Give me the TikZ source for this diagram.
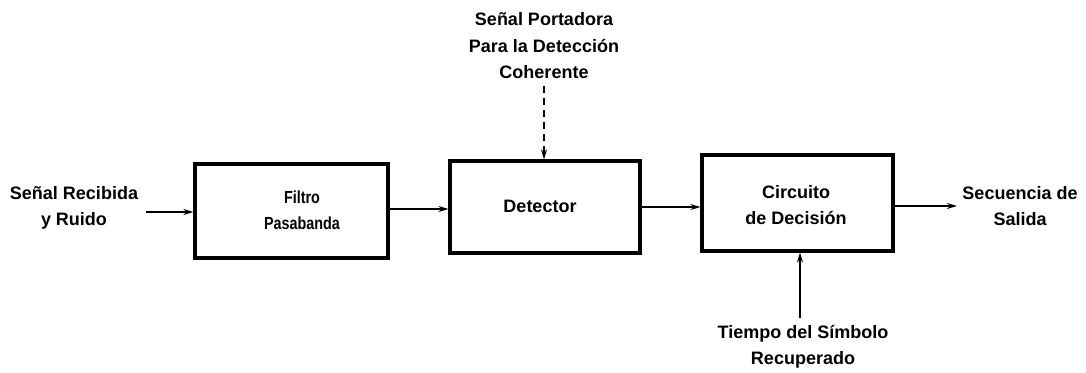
\documentclass[tikz,border=0pt]{standalone}
\usepackage{fontspec}
\setmainfont{Liberation Sans}
\newcommand\narrowtxt[1]{\scalebox{0.82}[1]{#1}}
\usetikzlibrary{arrows.meta}
\begin{document}
\begin{tikzpicture}[x=1pt,y=-1pt,
  blk/.style={draw, line width=3.1pt, inner sep=0pt},
  lbl/.style={font=\fontsize{18}{26.5}\selectfont\bfseries, align=center, inner sep=0pt},
  slbl/.style={font=\fontsize{17.5}{26}\selectfont\bfseries, align=center, inner sep=0pt},
  conn/.style={line width=1.5pt, -{Stealth[length=10pt,width=6pt]}},
  dconn/.style={conn, dash pattern=on 7pt off 5pt}]
\useasboundingbox (0,0) rectangle (1086,372);
\node[blk, minimum width=193pt, minimum height=94pt] (f) at (291.5,211) {};
\node[slbl] (ft) at (302,210) {\narrowtxt{Filtro}\\\narrowtxt{Pasabanda}};
\node[blk, minimum width=190pt, minimum height=92pt] (d) at (545,207) {};
\node[lbl] (dt) at (540,206) {Detector};
\node[blk, minimum width=191pt, minimum height=96pt] (c) at (797.5,203) {};
\node[lbl] (ct) at (796,205) {Circuito\\de Decisión};
\node[lbl] (in) at (74,208) {Señal Recibida\\y Ruido};
\node[lbl] (out) at (1020,206) {Secuencia de\\Salida};
\node[lbl] (top) at (544,46) {Señal Portadora\\Para la Detección\\Coherente};
\node[lbl] (bot) at (803,347) {Tiempo del Símbolo\\Recuperado};
\coordinate (inA) at (146,212);
\coordinate (outB) at (957,206);
\coordinate (topA) at (544,86);
\coordinate (botA) at (800,318);
\draw[conn] (inA) -- (inA -| f.west);
\draw[conn] (f.east |- 0,209) -- (d.west |- 0,209);
\draw[conn] (d.east |- 0,207) -- (c.west |- 0,207);
\draw[conn] (c.east |- outB) -- (outB);
\draw[dconn] (topA) -- (topA |- d.north);
\draw[conn] (botA) -- (botA |- c.south);
\end{tikzpicture}
\end{document}
